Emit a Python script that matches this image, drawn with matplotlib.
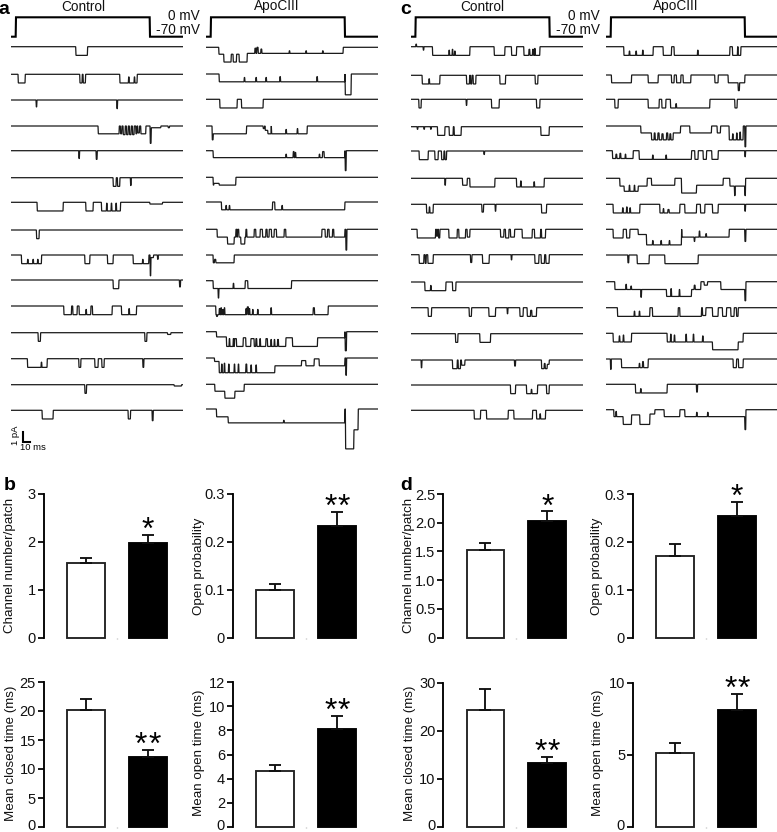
import numpy as np
import matplotlib
matplotlib.use('Agg')
import matplotlib.pyplot as plt
from matplotlib.transforms import ScaledTranslation

plt.rcParams['font.family'] = ['Liberation Sans', 'DejaVu Sans']

W, H = 777, 832
N_SAMPLES = 516
SAMPLES_PER_MS = 2.25
PX_PER_PA = 8.67

# bar charts: control, apociii means and upper error ends
b_channel = [1.55, 1.98]
b_channel_err = [1.66, 2.14]
b_popen = [0.10, 0.233]
b_popen_err = [0.112, 0.262]
b_closed = [20.2, 12.0]
b_closed_err = [22.0, 13.3]
b_open = [4.6, 8.1]
b_open_err = [5.1, 9.2]

d_channel = [1.53, 2.03]
d_channel_err = [1.65, 2.20]
d_popen = [0.17, 0.254]
d_popen_err = [0.196, 0.284]
d_closed = [24.2, 13.2]
d_closed_err = [28.7, 14.6]
d_open = [5.1, 8.1]
d_open_err = [5.8, 9.2]

ticks_channel_b = ['0', '1', '2', '3']
ticks_channel_d = ['0', '0.5', '1.0', '1.5', '2.0', '2.5']
ticks_popen = ['0', '0.1', '0.2', '0.3']
ticks_closed_b = ['0', '5', '10', '15', '20', '25']
ticks_closed_d = ['0', '10', '20', '30']
ticks_open_b = ['0', '2', '4', '6', '8', '10', '12']
ticks_open_d = ['0', '5', '10']

# single channel sweeps: one list per sweep of (start sample, end sample, depth in pA)
# later events overwrite earlier ones, depth 0 is a short return to baseline
a_control = [
    [(195, 230, 1)],
    [(22, 43, 1), (207, 214, 1), (217, 224, 1), (327, 379, 1), (353, 355, 0.3), (370, 372, 0.3)],
    [(76, 78, 0.8), (318, 320, 1)],
    [(262, 325, 0.9), (329, 333, 0.9), (337, 343, 1), (347, 352, 1), (356, 361, 1), (365, 370, 1), (375, 378, 0.9),
     (381, 386, 0.8), (390, 405, 0.9), (418, 421, 2), (421, 450, 0.2), (472, 476, 0.2)],
    [(204, 206, 0.9), (256, 259, 1)],
    [(307, 316, 1), (320, 327, 1), (359, 361, 0.9)],
    [(79, 157, 1), (225, 247, 1), (272, 329, 1), (287, 289, 0.1), (301, 303, 0.1), (315, 317, 0.1), (417, 455, 0.2)],
    [(77, 85, 1)],
    [(32, 92, 1), (50, 52, 0.5), (66, 68, 0.5), (80, 82, 0.5), (222, 237, 1), (290, 307, 1), (367, 414, 1), (395, 397, 0.5),
     (418, 420, 2.4), (420, 428, 0.3), (440, 442, 0.5)],
    [(307, 324, 1), (506, 509, 0.8)],
    [(159, 182, 1), (186, 199, 1), (205, 240, 1), (225, 227, 0.4), (245, 304, 1), (332, 377, 1), (354, 356, 0.3)],
    [(82, 89, 1), (402, 408, 1), (470, 480, 0.2)],
    [(50, 109, 1), (91, 93, 0.4), (204, 210, 1), (252, 262, 1), (273, 280, 1), (396, 399, 1)],
    [(222, 227, 1), (490, 512, 0.15)],
    [(94, 127, 1), (352, 359, 1), (424, 427, 1.2)],
]

a_apo = [
    [(39, 54, 0.8), (54, 124, 1.7), (76, 82, 0.8), (92, 100, 0.8), (124, 412, 0.7), (147, 150, 0.1), (153, 157, 0),
     (165, 168, 0.2), (250, 252, 0.4), (300, 302, 0.4), (350, 352, 0.4)],
    [(40, 417, 0.9), (115, 117, 0.4), (150, 152, 0.4), (180, 182, 0.4), (222, 224, 0.3), (333, 335, 0.3), (418, 436, 2.4)],
    [(42, 94, 1), (107, 172, 1)],
    [(19, 22, 1.6), (22, 122, 0.9), (172, 176, 0.3), (178, 186, 0.5), (186, 196, 0.9), (197, 304, 0.9), (240, 242, 0.4),
     (274, 276, 0.3)],
    [(22, 417, 0.8), (240, 242, 0.4), (262, 265, 0.1), (268, 270, 0.2), (340, 342, 0.4), (350, 355, 0.1), (418, 421, 2.3)],
    [(22, 90, 0.9), (24, 40, 0.7)],
    [(47, 417, 0.9), (60, 62, 0.4), (70, 72, 0.4), (200, 207, 0), (228, 230, 0.4)],
    [(34, 417, 0.9), (65, 85, 1.7), (105, 117, 1.7), (90, 93, 0), (95, 99, 0), (120, 123, 0), (145, 150, 0), (163, 170, 0),
     (180, 184, 0), (190, 197, 0), (205, 212, 0), (235, 240, 0), (348, 358, 0), (365, 370, 0), (380, 384, 0), (420, 423, 2.4)],
    [(22, 85, 0.9), (26, 30, 0.5)],
    [(22, 257, 0.9), (37, 39, 2), (82, 84, 0.3), (118, 126, 0)],
    [(30, 367, 1), (32, 35, 1.2), (40, 42, 0.3), (45, 47, 0.2), (50, 52, 0.4), (55, 57, 0.2), (120, 122, 0.3), (124, 128, 0.1),
     (130, 132, 0.3), (140, 142, 0.4), (155, 157, 0.4), (195, 197, 0.2), (322, 326, 0.2)],
    [(32, 62, 0.6), (62, 335, 1.7), (70, 72, 0.8), (82, 84, 0.8), (86, 92, 0.8), (112, 120, 0.7), (135, 145, 0.8),
     (150, 153, 0.8), (162, 164, 0.8), (180, 185, 0.8), (195, 197, 0.9), (205, 207, 0.9), (215, 218, 0.9), (240, 260, 0.7),
     (335, 417, 0.7), (418, 422, 2.2)],
    [(26, 40, 0.4), (40, 207, 1.7), (47, 49, 0.7), (55, 57, 0.6), (68, 70, 0.7), (85, 87, 0.7), (97, 99, 0.7),
     (120, 123, 0.7), (135, 137, 0.8), (150, 152, 0.8), (207, 417, 0.9), (287, 300, 0.3), (325, 340, 0.1), (420, 422, 2)],
    [(27, 57, 0.8), (57, 87, 1.6), (87, 115, 0.8)],
    [(32, 67, 0.9), (67, 417, 1.6), (233, 235, 1.3), (419, 444, 4.6), (444, 457, 2.4)],
]

c_control = [
    [(16, 18, -0.3), (38, 40, 0.4), (66, 178, 1), (115, 117, 0.4), (125, 127, 0.3), (132, 134, 0.5), (251, 283, 1), (303, 318, 1),
     (340, 388, 1), (355, 358, 0.3), (366, 369, 0.3), (372, 374, 0.2)],
    [(35, 88, 1), (55, 57, 0.4), (168, 177, 1), (180, 184, 1), (188, 196, 1), (268, 285, 1), (374, 382, 1)],
    [(25, 32, 1), (167, 169, 0.7), (243, 266, 1), (378, 388, 1)],
    [(20, 22, 0.3), (40, 42, 0.3), (60, 62, 0.3), (81, 103, 1), (116, 128, 1), (131, 152, 1), (391, 416, 1)],
    [(26, 53, 1), (73, 83, 1), (93, 100, 1), (103, 108, 1), (220, 222, 0.4)],
    [(103, 105, 0.8), (156, 170, 0.8), (178, 253, 1), (318, 401, 1), (330, 332, 0.3), (370, 372, 0.4)],
    [(48, 68, 1), (56, 58, 0.3), (214, 219, 0.9), (254, 256, 0.8), (393, 408, 1)],
    [(20, 75, 1), (78, 81, 0.8), (84, 88, 1), (115, 140, 1), (145, 165, 1), (170, 178, 0.9), (270, 280, 0.9), (285, 295, 1),
     (300, 312, 0.9), (335, 365, 1), (372, 390, 1), (393, 405, 1)],
    [(26, 40, 1), (44, 47, 1), (52, 68, 1), (180, 184, 0.9), (216, 236, 1), (302, 304, 0.6), (373, 385, 1), (392, 402, 1), (406, 416, 1)],
    [(43, 106, 1), (60, 62, 0.4), (126, 136, 1)],
    [(53, 63, 1), (176, 183, 1), (235, 255, 1), (290, 292, 0.7), (328, 338, 1), (350, 378, 1), (360, 364, 0.3)],
    [(135, 142, 1), (208, 240, 1)],
    [(32, 34, 0.9), (126, 140, 1), (143, 150, 1), (153, 163, 0.6), (312, 315, 0.7), (393, 410, 1), (401, 404, 0.4), (410, 416, 0.5)],
    [(300, 315, 1), (348, 381, 1), (362, 364, 0.5), (408, 416, 1)],
    [(191, 210, 1), (228, 293, 1), (310, 366, 1), (378, 405, 1), (388, 390, 0.4)],
]

c_apo = [
    [(54, 142, 1), (70, 72, 0.5), (90, 92, 0.5), (110, 112, 0.4), (172, 197, 1), (205, 372, 1), (275, 277, 0.4), (372, 380, 0),
     (380, 405, 1), (395, 397, 0)],
    [(17, 77, 0.9), (127, 157, 0.9), (197, 205, 0.9), (212, 225, 0.9), (232, 255, 0.9), (327, 337, 0.9), (367, 417, 0.9),
     (397, 401, 1.8)],
    [(27, 37, 1), (127, 160, 1), (168, 180, 1), (194, 312, 1), (210, 212, 0.5), (387, 394, 1)],
    [(105, 137, 0.8), (137, 202, 1.6), (145, 148, 0.8), (156, 160, 0.8), (168, 172, 0.9), (182, 186, 0.8), (192, 195, 0.9),
     (202, 224, 0.8), (252, 317, 0.8), (334, 344, 0.8), (370, 412, 1.6), (380, 382, 0.9), (392, 394, 0.8), (402, 404, 0.7),
     (417, 420, 2.4)],
    [(20, 82, 0.9), (30, 33, 0.4), (42, 45, 0.3), (58, 60, 0.4), (100, 257, 1), (140, 142, 0.5), (180, 182, 0.5), (267, 277, 1),
     (292, 302, 1), (318, 337, 1), (417, 419, 0.7)],
    [(42, 124, 0.9), (55, 97, 1.5), (70, 72, 0.8), (85, 87, 0.8), (137, 207, 0.8), (227, 272, 1.7), (272, 352, 0.8), (372, 417, 0.9),
     (386, 388, 2), (417, 419, 2)],
    [(22, 102, 1), (50, 52, 0.4), (62, 64, 0.3), (72, 74, 0.4), (162, 222, 1), (172, 174, 0.5), (186, 190, 0.6), (237, 272, 1),
     (284, 297, 1), (320, 337, 1), (417, 419, 0.8)],
    [(22, 52, 1), (62, 72, 1), (97, 122, 0.6), (122, 227, 1.8), (140, 142, 1.3), (165, 167, 1.3), (190, 192, 1.3), (228, 370, 0.9),
     (265, 267, 1.4), (280, 282, 0.2), (300, 302, 0.5), (417, 420, 1.4)],
    [(66, 69, 0.9), (94, 130, 1), (177, 277, 1)],
    [(27, 107, 0.9), (60, 62, 0.3), (75, 77, 0.5), (105, 107, 1.8), (107, 182, 0.9), (182, 257, 1.7), (195, 197, 0.8), (220, 222, 0.9),
     (257, 285, 0.9), (265, 268, 0.4), (295, 305, 0.4), (310, 325, 0), (345, 417, 0.9), (417, 420, 2.2)],
    [(35, 132, 1), (85, 87, 0.4), (100, 102, 0.4), (140, 217, 1), (222, 287, 1), (290, 300, 0.9), (320, 337, 1), (350, 362, 1),
     (375, 385, 1), (392, 397, 1)],
    [(22, 77, 1), (40, 42, 0.3), (52, 54, 0.2), (184, 320, 1), (194, 196, 0.1), (205, 207, 0.2), (240, 242, 0.1), (262, 264, 0.1),
     (290, 292, 0.3), (320, 397, 1.9), (397, 412, 1)],
    [(14, 16, 1.2), (47, 127, 1), (100, 102, 0.5), (110, 113, 0.3), (382, 392, 1), (398, 412, 1)],
    [(89, 184, 1), (104, 106, 0.5), (272, 275, 0.9)],
    [(24, 52, 0.8), (30, 32, 0.2), (52, 77, 1.7), (77, 102, 0.6), (102, 132, 1.7), (132, 147, 0.5), (175, 222, 0.8), (222, 237, 0),
     (237, 417, 0.8), (272, 274, 0.3), (305, 307, 0.3), (417, 420, 2.3)],
]

# layout in pixels of the picture
rows_a_control = [46.7, 74.3, 100, 126, 150.7, 177.7, 202.3, 230, 255, 280, 306, 332.7, 358.7, 384.7, 410.3]
rows_a_apo = [47.3, 74, 99.3, 126, 150.7, 177.3, 202, 229.3, 255, 280.7, 306, 331.7, 358, 384.3, 409]
rows_c_control = [46.7, 75.3, 99.3, 126.7, 151, 178.3, 204.3, 229.3, 254.7, 282, 307.7, 333.7, 360, 385, 410.3]
rows_c_apo = [46.7, 75, 99.3, 126, 150.7, 178.3, 204.3, 229.3, 255, 281.7, 307.7, 333.3, 359, 384.3, 409.7]


def axes_px(left, top, right, bottom):
    return fig.add_axes([left / W, 1 - bottom / H, (right - left) / W, (bottom - top) / H])


def sweep_levels(events):
    level = np.zeros(N_SAMPLES)
    for start, end, depth in events:
        level[start:end] = -depth
    return level


def column_axes(left):
    ax = axes_px(left, 0, left + N_SAMPLES / 3, 460)
    ax.set_xlim(0, N_SAMPLES)
    ax.set_ylim(460, 0)
    ax.axis('off')
    return ax


def draw_column(left, events, rows):
    ax = column_axes(left)
    t = np.arange(N_SAMPLES)
    for ev, y in zip(events, rows):
        ax.plot(t, y - sweep_levels(ev) * PX_PER_PA, color='#1a1a1a', lw=0.9, solid_joinstyle='miter')
    # voltage step above the sweeps
    v = np.full(N_SAMPLES, -70.0)
    v[15:N_SAMPLES - 99] = 0
    ax.plot(t, 36.7 - (v + 70) * 19.4 / 70, color='black', lw=1.5, solid_joinstyle='miter')
    return ax


def draw_bars(left, top, bottom, vals, errs, tick_labels, n_stars):
    ax = axes_px(left, top, left + 135, bottom)
    ticks = [float(s) for s in tick_labels]
    ax.set_xlim(-0.68, 1.5)
    ax.set_ylim(0, ticks[-1])
    ax.bar([0], vals[0], width=0.61, color='white', edgecolor='#222222', lw=1.35, clip_on=False)
    ax.bar([1], vals[1], width=0.61, color='black', edgecolor='black', lw=1.35, clip_on=False)
    upper = np.array(errs) - np.array(vals)
    ax.errorbar([0, 1], vals, yerr=[[0, 0], upper], fmt='none', ecolor='#111111', elinewidth=1.35,
                capsize=4.2, capthick=1.35, clip_on=False)
    # stars sit one by one so the gap between them can follow the picture
    offsets = [0] if n_stars == 1 else [-4.7, 4.7]
    for dx in offsets:
        ax.annotate('*', (1, errs[1]), xytext=(dx, -3), textcoords='offset points', ha='center', va='baseline',
                    fontsize=23, color='black', annotation_clip=False)
    for side in ['top', 'right', 'bottom']:
        ax.spines[side].set_visible(False)
    ax.spines['left'].set_linewidth(1.35)
    ax.set_yticks(ticks)
    ax.set_yticklabels(tick_labels)
    ax.tick_params(axis='y', length=4.2, width=1.35, pad=1.5, labelsize=10.5, color='#111111', labelcolor='#111111')
    ax.set_xticks([0.5])
    ax.set_xticklabels([''])
    ax.tick_params(axis='x', length=1, width=1, color='#bbbbbb')
    ax.patch.set_alpha(0)
    # lowest label of the bottom row stays inside the picture
    if bottom > 800:
        zero = ax.get_yticklabels()[0]
        zero.set_transform(zero.get_transform() + ScaledTranslation(0, 2 / 100, fig.dpi_scale_trans))
    return ax


def ylabel_px(x, y, s):
    fig.text(x / W, 1 - y / H, s, rotation=90, ha='center', va='center', fontsize=9.65, color='#111111')


fig = plt.figure(figsize=(W / 100, H / 100), dpi=100)

draw_column(11, a_control, rows_a_control)
draw_column(206, a_apo, rows_a_apo)
draw_column(410.7, c_control, rows_c_control)
draw_column(606, c_apo, rows_c_apo)

for x, y, s in [(83, 7, 'Control'), (277, 6, 'ApoCIII'), (482, 7, 'Control'), (676, 6, 'ApoCIII')]:
    fig.text(x / W, 1 - y / H, s, ha='center', va='center', fontsize=9.8, color='#111111')
for x in [200, 600]:
    fig.text(x / W, 1 - 16.5 / H, '0 mV', ha='right', va='center', fontsize=9.8, color='#111111')
    fig.text(x / W, 1 - 30.5 / H, '-70 mV', ha='right', va='center', fontsize=9.8, color='#111111')
for x, y, s in [(4, 10, 'a'), (406, 10, 'c'), (10, 485, 'b'), (406, 486, 'd')]:
    fig.text(x / W, 1 - y / H, s, ha='center', va='center', fontsize=14, fontweight='bold', color='black')

# scale bars, 10 ms and 1 pA
scale_ax = column_axes(11)
scale_ax.plot([35, 35, 35 + 10 * SAMPLES_PER_MS], [441.7 - PX_PER_PA * 1.15, 441.7, 441.7], color='black', lw=1.5,
              solid_joinstyle='miter')
fig.text(15.5 / W, 1 - 435 / H, '1 pA', rotation=90, ha='center', va='center', fontsize=6.8)
fig.text(32.5 / W, 1 - 447.7 / H, '10 ms', ha='center', va='center', fontsize=6.8)

draw_bars(43.7, 493.5, 637.7, b_channel, b_channel_err, ticks_channel_b, 1)
draw_bars(233, 493.5, 637.7, b_popen, b_popen_err, ticks_popen, 2)
draw_bars(43.7, 682, 827, b_closed, b_closed_err, ticks_closed_b, 2)
draw_bars(233, 682, 827, b_open, b_open_err, ticks_open_b, 2)
draw_bars(443.3, 494, 637.7, d_channel, d_channel_err, ticks_channel_d, 1)
draw_bars(633, 494, 637.7, d_popen, d_popen_err, ticks_popen, 1)
draw_bars(443.3, 682.5, 827, d_closed, d_closed_err, ticks_closed_d, 2)
draw_bars(633, 682.5, 827, d_open, d_open_err, ticks_open_d, 2)

ylabel_px(10.5, 565, 'Channel number/patch')
ylabel_px(199, 566, 'Open probability')
ylabel_px(11, 753, 'Mean closed time (ms)')
ylabel_px(199, 753, 'Mean open time (ms)')
ylabel_px(409.5, 565, 'Channel number/patch')
ylabel_px(597, 566, 'Open probability')
ylabel_px(410, 753, 'Mean closed time (ms)')
ylabel_px(598, 753, 'Mean open time (ms)')

fig.savefig('out.png', dpi=100)
